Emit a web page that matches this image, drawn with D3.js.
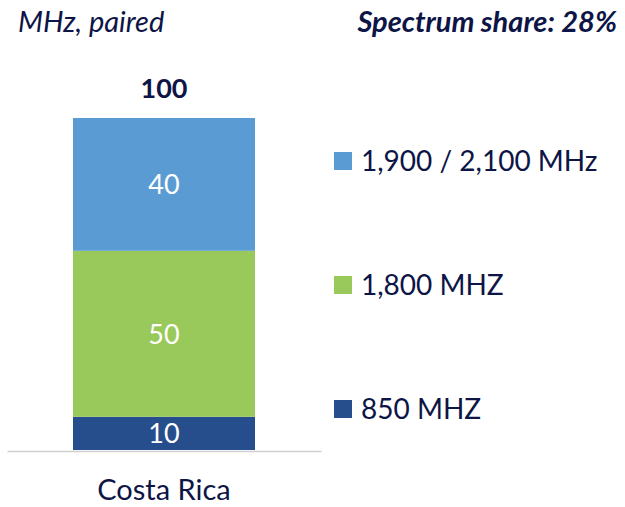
<!DOCTYPE html>
<html>
<head>
<meta charset="utf-8">
<script src="https://cdn.jsdelivr.net/npm/d3@7"></script>
<style>
  html, body { margin: 0; padding: 0; background: #fff; }
  svg text { font-family: Lato, "Open Sans", sans-serif; }
</style>
</head>
<body>
<svg id="chart" width="625" height="507"></svg>
<script>
// Spectrum holdings, MHz paired
const categories = ["Costa Rica"];
const bands = ["850 MHZ", "1,800 MHZ", "1,900 / 2,100 MHz"];
const values850 = [10];
const values1800 = [50];
const values1900 = [40];
const colors = ["#264d8c", "#99c95a", "#5a9bd3"];
const title = "MHz, paired";
const shareLabel = "Spectrum share: 28%";

const svg = d3.select("#chart");
const ink = "#0d1546";

const series = [values850, values1800, values1900];
const rows = categories.map((c, i) => {
  const r = { category: c };
  bands.forEach((b, j) => { r[b] = series[j][i]; });
  return r;
});
const stacked = d3.stack().keys(bands)(rows);
const totals = rows.map(r => d3.sum(bands, b => r[b]));

const x = d3.scaleBand().domain(categories).range([7, 321]).paddingInner(0).paddingOuter(0.3626);
const y = d3.scaleLinear().domain([0, 100]).range([450, 118]);

// stacked segments
const layer = svg.append("g").selectAll("g").data(stacked).join("g")
  .attr("fill", (d, i) => colors[i]);
layer.selectAll("rect").data(d => d.map(v => ({ v, key: d.key }))).join("rect")
  .attr("x", d => x(d.v.data.category))
  .attr("width", x.bandwidth())
  .attr("y", d => y(d.v[1]))
  .attr("height", d => y(d.v[0]) - y(d.v[1]));

// segment values
layer.selectAll("text").data(d => d.map(v => ({ v, key: d.key }))).join("text")
  .attr("x", d => x(d.v.data.category) + x.bandwidth() / 2)
  .attr("y", d => (y(d.v[0]) + y(d.v[1])) / 2)
  .attr("dy", "0.36em")
  .attr("text-anchor", "middle")
  .attr("fill", "#fff")
  .attr("font-size", 27)
  .text(d => d.v.data[d.key]);

// totals above bars
svg.append("g").selectAll("text").data(rows).join("text")
  .attr("x", (d) => x(d.category) + x.bandwidth() / 2)
  .attr("y", (d, i) => y(totals[i]) - 20)
  .attr("text-anchor", "middle")
  .attr("fill", ink)
  .attr("font-size", 27)
  .attr("font-weight", "bold")
  .text((d, i) => totals[i]);

// category axis
const axis = svg.append("g").attr("transform", `translate(0,${y(0) + 1})`)
  .call(d3.axisBottom(x).tickSize(0));
axis.select(".domain").attr("stroke", "#d0d0d0").attr("stroke-width", 1.5);
axis.selectAll(".tick text")
  .attr("y", 49).attr("dy", null)
  .attr("font-size", 29).attr("fill", ink)
  .attr("font-family", "Lato, sans-serif");

// legend, top to bottom in reverse stack order
const legendY = [161, 285, 409];
const legend = svg.append("g").selectAll("g").data(bands.slice().reverse()).join("g")
  .attr("transform", (d, i) => `translate(334,${legendY[i]})`);
legend.append("rect").attr("x", 0).attr("y", -9).attr("width", 18).attr("height", 18)
  .attr("fill", d => colors[bands.indexOf(d)]);
legend.append("text").attr("x", 27).attr("y", 0).attr("dy", "0.36em")
  .attr("font-size", 28).attr("fill", ink).text(d => d);

// headers
svg.append("text").attr("x", 18).attr("y", 32).attr("font-size", 29)
  .attr("font-style", "italic").attr("fill", ink).text(title);
svg.append("text").attr("x", 617).attr("y", 32).attr("font-size", 29)
  .attr("font-style", "italic").attr("font-weight", "bold").attr("text-anchor", "end")
  .attr("fill", ink).text(shareLabel);
</script>
</body>
</html>
